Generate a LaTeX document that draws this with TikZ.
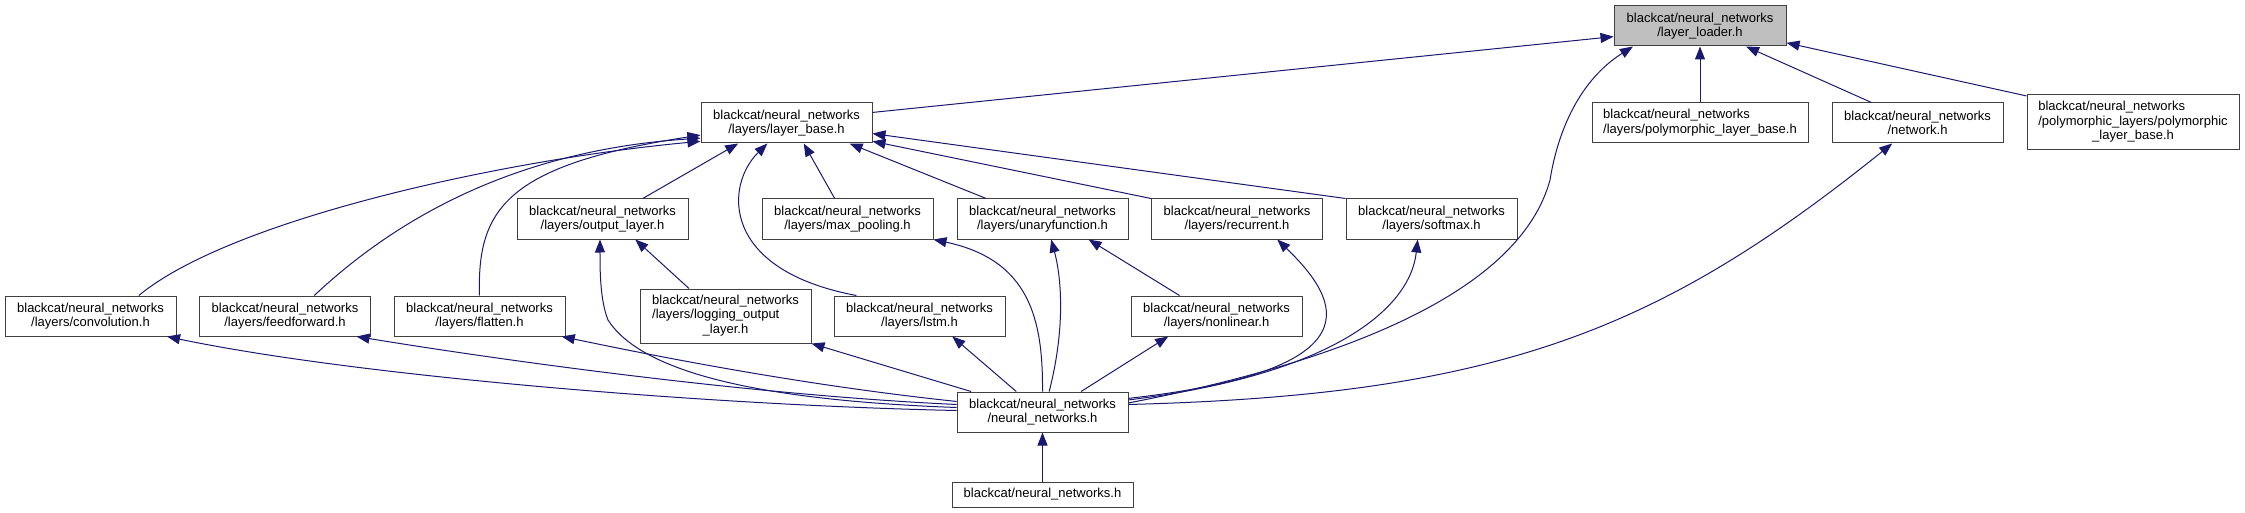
\documentclass[tikz,border=0pt]{standalone}
\usepackage{fontspec}
\usetikzlibrary{arrows.meta}
\newfontfamily\dxsans{Liberation Sans}
\newcommand\boxfont{\dxsans\fontsize{13pt}{14.5pt}\selectfont}
\definecolor{navyline}{HTML}{191970}
\tikzset{
  filebox/.style={draw=black!75, line width=1pt, fill=white, align=center, font=\boxfont,
    inner sep=0pt, minimum width=171pt, minimum height=40pt},
  rootbox/.style={filebox, fill=black!25, minimum width=172pt},
  incarrow/.style={draw=navyline, line width=1pt, -{Triangle[length=13pt, width=10pt]}}
}

\begin{document}
\begin{tikzpicture}[x=1pt, y=-1pt]
    \useasboundingbox (0,0) rectangle (2245,513);
    % top row
    \node[rootbox] (loader) at (1700,26) {blackcat/neural\_networks\\/layer\_loader.h};
    \node[filebox] (base) at (786.5,123) {blackcat/neural\_networks\\/layers/layer\_base.h};
    \node[filebox, minimum width=216pt] (plbase) at (1700,123)
      {\begin{tabular}{@{}l@{}}blackcat/neural\_networks\\/layers/polymorphic\_layer\_base.h\end{tabular}};
    \node[filebox] (network) at (1917.5,123) {blackcat/neural\_networks\\/network.h};
    \node[filebox, minimum width=212pt, minimum height=55pt] (pplbase) at (2133,122.5)
      {\begin{tabular}{@{}l@{}}blackcat/neural\_networks\\/polymorphic\_layers/polymorphic\\\multicolumn{1}{@{}c@{}}{\_layer\_base.h}\end{tabular}};
    % layers
    \node[filebox] (output) at (602.5,219) {blackcat/neural\_networks\\/layers/output\_layer.h};
    \node[filebox] (maxpool) at (847.5,219) {blackcat/neural\_networks\\/layers/max\_pooling.h};
    \node[filebox] (unary) at (1042.5,219) {blackcat/neural\_networks\\/layers/unaryfunction.h};
    \node[filebox] (recurrent) at (1237,219) {blackcat/neural\_networks\\/layers/recurrent.h};
    \node[filebox] (softmax) at (1431.5,219) {blackcat/neural\_networks\\/layers/softmax.h};
    \node[filebox] (conv) at (90.5,316) {blackcat/neural\_networks\\/layers/convolution.h};
    \node[filebox] (ffwd) at (285,316) {blackcat/neural\_networks\\/layers/feedforward.h};
    \node[filebox] (flatten) at (479.5,316) {blackcat/neural\_networks\\/layers/flatten.h};
    \node[filebox, minimum height=54pt] (logging) at (725.5,316)
      {\begin{tabular}{@{}l@{}}blackcat/neural\_networks\\/layers/logging\_output\\\multicolumn{1}{@{}c@{}}{\_layer.h}\end{tabular}};
    \node[filebox] (lstm) at (919.5,316) {blackcat/neural\_networks\\/layers/lstm.h};
    \node[filebox] (nonlinear) at (1216.5,316) {blackcat/neural\_networks\\/layers/nonlinear.h};
    % bottom
    \node[filebox] (nnh) at (1042.5,412) {blackcat/neural\_networks\\/neural\_networks.h};
    \node[filebox, minimum width=181pt, minimum height=25pt] (top) at (1042.5,494.5) {blackcat/neural\_networks.h};

    % into layer_loader
    \draw[incarrow] (base.7) -- (loader.-173);
    \draw[incarrow] (plbase) -- (loader);
    \draw[incarrow] (network.156) -- (loader.-24);
    \draw[incarrow] (pplbase.166) -- (loader.-11);
    \draw[incarrow] (nnh.6) .. controls (1350,360) and (1520,290) .. (1550,180)
      .. controls (1558,130) and (1580,80) .. (loader.-163);
    % into layer_base
    \draw[incarrow] (output.27) -- (base.-157);
    \draw[incarrow] (maxpool.122) -- (base.-50);
    \draw[incarrow] (unary.160) -- (base.-18);
    \draw[incarrow] (recurrent.north west) -- (base.-12);
    \draw[incarrow] (softmax.north west) -- (base.-7);
    \draw[incarrow] (lstm.162) .. controls (720,270) and (725,185) .. (base.-133);
    \draw[incarrow] (conv.23) .. controls (230,220) and (500,160) .. (base.-168);
    \draw[incarrow] (ffwd.35) .. controls (400,215) and (520,150) .. (base.-170);
    \draw[incarrow] (flatten.north) .. controls (477,210) and (505,165) .. (base.-172);
    % second level
    \draw[incarrow] (logging.143) -- (output.-32);
    \draw[incarrow] (nonlinear.151) -- (unary.-24);
    \draw[incarrow] (nnh.9) .. controls (1380,370) and (1340,300) .. (recurrent.-27);
    \draw[incarrow] (nnh.8) .. controls (1330,375) and (1410,310) .. (softmax.-124);
    \draw[incarrow] (nnh.5) .. controls (1500,395) and (1660,330) .. (network.-141);
    % into neural_networks.h
    \draw[incarrow] (top) -- (nnh);
    \draw[incarrow] (nnh.179) .. controls (700,405) and (350,375) .. (conv.-15);
    \draw[incarrow] (nnh.175) .. controls (750,395) and (500,360) .. (ffwd.-16);
    \draw[incarrow] (nnh.173) .. controls (800,385) and (650,355) .. (flatten.-14);
    \draw[incarrow] (nnh.177) .. controls (750,400) and (640,370) .. (608,320)
      .. controls (600,300) and (600,270) .. (output.-97);
    \draw[incarrow] (nnh.164) -- (logging.south east);
    \draw[incarrow] (nnh.142) -- (lstm.-32);
    \draw[incarrow] (nnh.north) .. controls (1043,320) and (1030,260) .. (maxpool.south east);
    \draw[incarrow] (nnh.72) .. controls (1065,330) and (1062,280) .. (unary.-67);
    \draw[incarrow] (nnh.28) -- (nonlinear.-157);
\end{tikzpicture}
\end{document}
